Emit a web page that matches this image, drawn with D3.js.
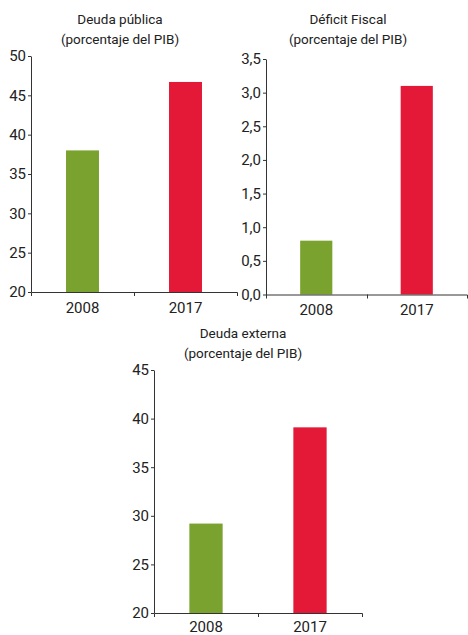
<!DOCTYPE html>
<html>
<head>
<meta charset="utf-8">
<script src="https://cdn.jsdelivr.net/npm/d3@7"></script>
<style>
  body { margin: 0; background: #fff; }
  text { font-family: Roboto, "Open Sans", sans-serif; fill: #222; }
</style>
</head>
<body>
<div id="chart-area"></div>
<script>
// data
const years = ["2008", "2017"]
const deudaPublica = [38.0, 46.7]
const deficitFiscal = [0.8, 3.1]
const deudaExterna = [29.2, 39.1]

const ticksDeudaPublica = [20, 25, 30, 35, 40, 45, 50]
const ticksDeficit = [0, 0.5, 1, 1.5, 2, 2.5, 3, 3.5]
const ticksDeudaExterna = [20, 25, 30, 35, 40, 45]

const barColors = ["#7aa22f", "#e31937"]

const comma = d3.formatLocale({ decimal: ",", thousands: ".", grouping: [3], currency: ["", ""] })

const svg = d3.select("#chart-area").append("svg")
    .attr("width", 468)
    .attr("height", 635)

function drawChart(opts) {
    const width = opts.x1 - opts.x0,
          height = opts.yBottom - opts.yTop

    const g = svg.append("g")
        .attr("transform", "translate(" + opts.x0 + "," + opts.yTop + ")")

    // two-line title
    g.append("text")
        .attr("x", opts.titleX - opts.x0)
        .attr("y", opts.titleY - opts.yTop)
        .attr("font-size", "13.5px")
        .attr("text-anchor", "middle")
        .text(opts.title)
    g.append("text")
        .attr("x", opts.titleX - opts.x0)
        .attr("y", opts.titleY - opts.yTop + 20)
        .attr("font-size", "13.5px")
        .attr("text-anchor", "middle")
        .text("(porcentaje del PIB)")

    const x = d3.scaleBand()
        .domain(years)
        .range([0, width])
        .paddingInner(0.68)
        .paddingOuter(0.34)

    const y = d3.scaleLinear()
        .domain(opts.domain)
        .range([height, 0])

    g.selectAll("rect")
        .data(opts.values)
        .enter()
        .append("rect")
            .attr("x", function(d, i){ return x(years[i]) })
            .attr("y", function(d){ return y(d) })
            .attr("width", x.bandwidth())
            .attr("height", function(d){ return height - y(d) })
            .attr("fill", function(d, i){ return barColors[i] })

    const yAxisCall = d3.axisLeft(y)
        .tickValues(opts.ticks)
        .tickSize(3)
        .tickSizeOuter(0)
        .tickPadding(2)
        .tickFormat(opts.format)
    g.append("g")
        .attr("class", "y axis")
        .call(yAxisCall)

    const xAxisCall = d3.axisBottom(x)
        .tickSize(0)
        .tickSizeOuter(4)
        .tickPadding(opts.labelPad)
    const xAxis = g.append("g")
        .attr("class", "x axis")
        .attr("transform", "translate(0," + height + ")")
        .call(xAxisCall)

    // excel-style divider tick between the two categories
    const mid = Math.round(width / 2) + 0.5
    xAxis.append("line")
        .attr("x1", mid)
        .attr("x2", mid)
        .attr("y1", 0)
        .attr("y2", 4)

    g.selectAll(".axis path, .axis line").attr("stroke", "#333")
    g.selectAll(".axis text")
        .attr("font-size", "15px")
        .attr("font-family", "Roboto, 'Open Sans', sans-serif")
        .attr("fill", "#222")
}

drawChart({
    title: "Deuda pública", titleX: 120, titleY: 24,
    x0: 31, x1: 237, yTop: 56, yBottom: 292,
    domain: [20, 50], ticks: ticksDeudaPublica, values: deudaPublica,
    format: d3.format("d"), labelPad: 10
})

drawChart({
    title: "Déficit Fiscal", titleX: 348, titleY: 24,
    x0: 266, x1: 467, yTop: 59, yBottom: 294.5,
    domain: [0, 3.5], ticks: ticksDeficit, values: deficitFiscal,
    format: comma.format(".1f"), labelPad: 10
})

drawChart({
    title: "Deuda externa", titleX: 243, titleY: 338,
    x0: 154, x1: 362, yTop: 370, yBottom: 613,
    domain: [20, 45], ticks: ticksDeudaExterna, values: deudaExterna,
    format: d3.format("d"), labelPad: 8
})
</script>
</body>
</html>
